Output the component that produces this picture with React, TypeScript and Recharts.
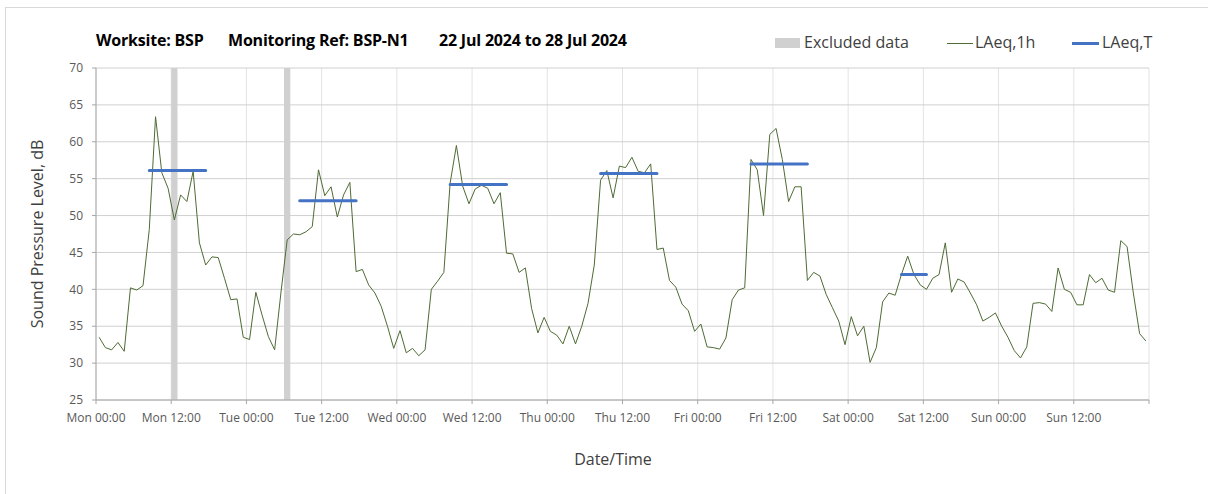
import { ComposedChart, Line, XAxis, YAxis, CartesianGrid, ReferenceArea } from 'recharts';

// hourly LAeq,1h values, Mon 00:00 -> Sun 23:00 (plotted at mid-hour)
const laeq1h = [
  33.5, 32.1, 31.8, 32.8, 31.6, 40.2, 39.9, 40.5, 48.1, 63.4, 55.8, 53.7,
  49.4, 52.8, 51.9, 56.0, 46.3, 43.3, 44.4, 44.3, 41.5, 38.6, 38.7, 33.5,
  33.2, 39.6, 36.5, 33.6, 31.8, 39.5, 46.7, 47.5, 47.4, 47.8, 48.5, 56.2,
  52.7, 53.9, 49.8, 52.8, 54.5, 42.4, 42.7, 40.6, 39.5, 37.7, 35.0, 32.0,
  34.4, 31.4, 32.0, 31.0, 31.8, 40.0, 41.1, 42.3, 54.4, 59.5, 54.0, 51.6,
  53.6, 54.1, 53.7, 51.6, 53.1, 44.9, 44.8, 42.3, 42.9, 37.4, 34.1, 36.2,
  34.3, 33.8, 32.6, 35.0, 32.6, 35.0, 38.1, 43.3, 54.8, 56.1, 52.4, 56.7,
  56.5, 57.9, 56.0, 55.8, 57.0, 45.4, 45.6, 41.2, 40.3, 38.0, 37.1, 34.3,
  35.3, 32.2, 32.1, 31.9, 33.4, 38.6, 39.9, 40.2, 57.6, 56.2, 50.0, 61.0,
  61.8, 57.6, 51.9, 53.9, 53.9, 41.2, 42.3, 41.8, 39.3, 37.5, 35.7, 32.5,
  36.3, 33.7, 35.0, 30.1, 32.1, 38.3, 39.5, 39.2, 42.0, 44.5, 42.0, 40.6,
  40.0, 41.5, 42.0, 46.3, 39.6, 41.4, 41.0, 39.5, 37.9, 35.7, 36.2, 36.8,
  35.0, 33.5, 31.7, 30.7, 32.2, 38.1, 38.2, 38.0, 37.0, 42.9, 40.0, 39.6,
  37.9, 37.9, 42.0, 40.9, 41.5, 39.9, 39.6, 46.6, 45.8, 39.5, 34.0, 33.0,
];

// LAeq,T per day (Mon..Sun) and the hours it covers
const laeqT = [56.1, 52.0, 54.2, 55.7, 57.0, 42.0, null];
const periodStart = [8, 8, 8, 8, 8, 8, 8];
const periodEnd = [17, 17, 17, 17, 17, 12, 12];

const excludedHours = [12, 30];

const tickHours = [0, 12, 24, 36, 48, 60, 72, 84, 96, 108, 120, 132, 144, 156, 168];
const tickLabels = [
  'Mon 00:00', 'Mon 12:00', 'Tue 00:00', 'Tue 12:00', 'Wed 00:00', 'Wed 12:00',
  'Thu 00:00', 'Thu 12:00', 'Fri 00:00', 'Fri 12:00', 'Sat 00:00', 'Sat 12:00',
  'Sun 00:00', 'Sun 12:00', '',
];
const yTicks = [25, 30, 35, 40, 45, 50, 55, 60, 65, 70];

const data = laeq1h.map((v, i) => {
  const day = Math.floor(i / 24);
  const h = i % 24;
  const t = laeqT[day];
  const inPeriod = t != null && h >= periodStart[day] && h <= periodEnd[day];
  return { t: i + 0.5, lAeq1h: v, lAeqT: inPeriod ? t : null };
});

const font = '"Open Sans", sans-serif';
const textColor = '#404040';

export default function App() {
  return (
    <div style={{ position: 'absolute', left: 0, top: 0, width: 1208, height: 494, background: '#fff', fontFamily: font, overflow: 'hidden' }}>
      <div style={{ position: 'absolute', left: 5, top: 7, width: 1300, height: 600, borderLeft: '1px solid #d9d9d9', borderTop: '1px solid #d9d9d9' }} />

      <div style={{ position: 'absolute', top: 29, left: 0, fontSize: 16, fontWeight: 700, color: '#000', whiteSpace: 'nowrap', letterSpacing: -0.2 }}>
        <span style={{ position: 'absolute', left: 96 }}>Worksite: BSP</span>
        <span style={{ position: 'absolute', left: 228 }}>Monitoring Ref: BSP-N1</span>
        <span style={{ position: 'absolute', left: 439 }}>22 Jul 2024 to 28 Jul 2024</span>
      </div>

      <div style={{ position: 'absolute', top: 31, left: 0, fontSize: 16, color: textColor, whiteSpace: 'nowrap' }}>
        <div style={{ position: 'absolute', left: 775, top: 7, width: 25, height: 10, background: '#d0d0d0' }} />
        <span style={{ position: 'absolute', left: 804 }}>Excluded data</span>
        <div style={{ position: 'absolute', left: 947, top: 12, width: 26, height: 1, background: '#4e6b34' }} />
        <span style={{ position: 'absolute', left: 975 }}>LAeq,1h</span>
        <div style={{ position: 'absolute', left: 1072, top: 11, width: 27, height: 3, background: '#4472c4' }} />
        <span style={{ position: 'absolute', left: 1102 }}>LAeq,T</span>
      </div>

      <div style={{ position: 'absolute', left: 37, top: 234, transform: 'translate(-50%, -50%) rotate(-90deg)', fontSize: 16, color: textColor, whiteSpace: 'nowrap' }}>
        Sound Pressure Level, dB
      </div>
      <div style={{ position: 'absolute', left: 613, top: 459, transform: 'translate(-50%, -50%)', fontSize: 16, color: textColor, whiteSpace: 'nowrap' }}>
        Date/Time
      </div>

      <div style={{ position: 'absolute', left: 0, top: 0 }}>
        <ComposedChart width={1208} height={494} data={data} margin={{ top: 68, right: 59, left: 36, bottom: 54 }}>
          <CartesianGrid stroke="#e3e3e3" strokeWidth={1} horizontal={false} />
          <CartesianGrid stroke="#d0d0d0" strokeWidth={1} vertical={false} />
          {excludedHours.map((h) => (
            <ReferenceArea key={h} x1={h} x2={h + 1} y1={25} y2={70} fill="#d0d0d0" fillOpacity={1} stroke="none" ifOverflow="hidden" />
          ))}
          <XAxis
            dataKey="t"
            type="number"
            domain={[0, 168]}
            ticks={tickHours}
            tickFormatter={(v: number) => tickLabels[tickHours.indexOf(v)] ?? ''}
            interval={0}
            height={40}
            stroke="#a6a6a6"
            tickSize={4}
            tickMargin={9}
            tick={{ fontSize: 12, fill: '#595959', fontFamily: font }}
          />
          <YAxis
            type="number"
            domain={[25, 70]}
            ticks={yTicks}
            interval={0}
            width={60}
            stroke="#a6a6a6"
            tickSize={4}
            tickMargin={9}
            tick={{ fontSize: 12, fill: '#595959', fontFamily: font }}
          />
          <Line dataKey="lAeq1h" type="linear" stroke="#4e6b34" strokeWidth={1} dot={false} isAnimationActive={false} />
          <Line dataKey="lAeqT" type="linear" stroke="#4472c4" strokeWidth={3} strokeLinecap="round" dot={false} connectNulls={false} isAnimationActive={false} />
        </ComposedChart>
      </div>
    </div>
  );
}
